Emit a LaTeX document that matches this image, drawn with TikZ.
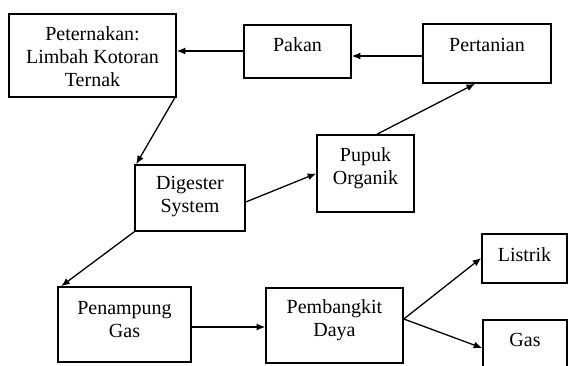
\documentclass[tikz,border=0pt]{standalone}
\usepackage{fontspec}
\setmainfont{Liberation Serif}
\usetikzlibrary{arrows.meta}
\begin{document}
\begin{tikzpicture}[x=1pt,y=-1pt,
  box/.style={draw, line width=1.6pt, inner sep=0pt},
  txt/.style={align=center, inner sep=0pt, font=\fontsize{20}{23}\selectfont},
  conn/.style={line width=1.3pt, -{Latex[length=8.5pt,width=7pt]}}]
\useasboundingbox (0,0) rectangle (568,365);
% boxes
\node[box, minimum width=167, minimum height=83] (pet) at (92.5,55.5) {};
\node[txt] (pett) at (92.5,57) {Peternakan:\\Limbah Kotoran\\Ternak};
\node[box, minimum width=107, minimum height=53] (pakan) at (297.5,51.5) {};
\node[txt] (pakant) at (297.5,45) {Pakan};
\node[box, minimum width=128, minimum height=59] (pert) at (487,53.5) {};
\node[txt] (pertt) at (487,45) {Pertanian};
\node[box, minimum width=97, minimum height=77] (pupuk) at (365.5,173.5) {};
\node[txt] (pupukt) at (365.5,168) {Pupuk\\Organik};
\node[box, minimum width=110, minimum height=66] (dig) at (190,198) {};
\node[txt] (digt) at (190,197) {Digester\\System};
\node[box, minimum width=133, minimum height=75] (pen) at (124.5,324.5) {};
\node[txt] (pent) at (124.5,320) {Penampung\\Gas};
\node[box, minimum width=137, minimum height=75] (pemb) at (334.5,325.5) {};
\node[txt] (pembt) at (334.5,320) {Pembangkit\\Daya};
\node[box, minimum width=85, minimum height=49] (lis) at (524.5,258.5) {};
\node[txt] (list) at (524.5,255) {Listrik};
\node[box, minimum width=84, minimum height=52] (gas) at (525,346) {};
\node[txt] (gast) at (525,340) {Gas};
% connectors
\draw[conn] ([yshift=0.5]pakan.west) -- ([yshift=0.5]pakan.west -| pet.east);
\draw[conn] ([yshift=-2.5]pert.west) -- ([yshift=-2.5]pert.west -| pakan.east);
\draw[conn] ([xshift=-2]pet.south east) -- ([xshift=2]dig.north west);
\draw[conn] ([yshift=-4]dig.east) -- (pupuk.west);
\draw[conn] ([xshift=11.5]pupuk.north) -- ([xshift=-12]pert.south);
\draw[conn] (dig.south west) -- ([xshift=4]pen.north west);
\draw[conn] ([yshift=-2.5]pen.east) -- ([yshift=-2.5]pen.east -| pemb.west);
\coordinate (pembo) at ([yshift=6.5]pemb.east);
\draw[conn] (pembo) -- ([yshift=0.5]lis.west);
\draw[conn] (pembo) -- ([yshift=-2]gas.west);
\end{tikzpicture}
\end{document}
